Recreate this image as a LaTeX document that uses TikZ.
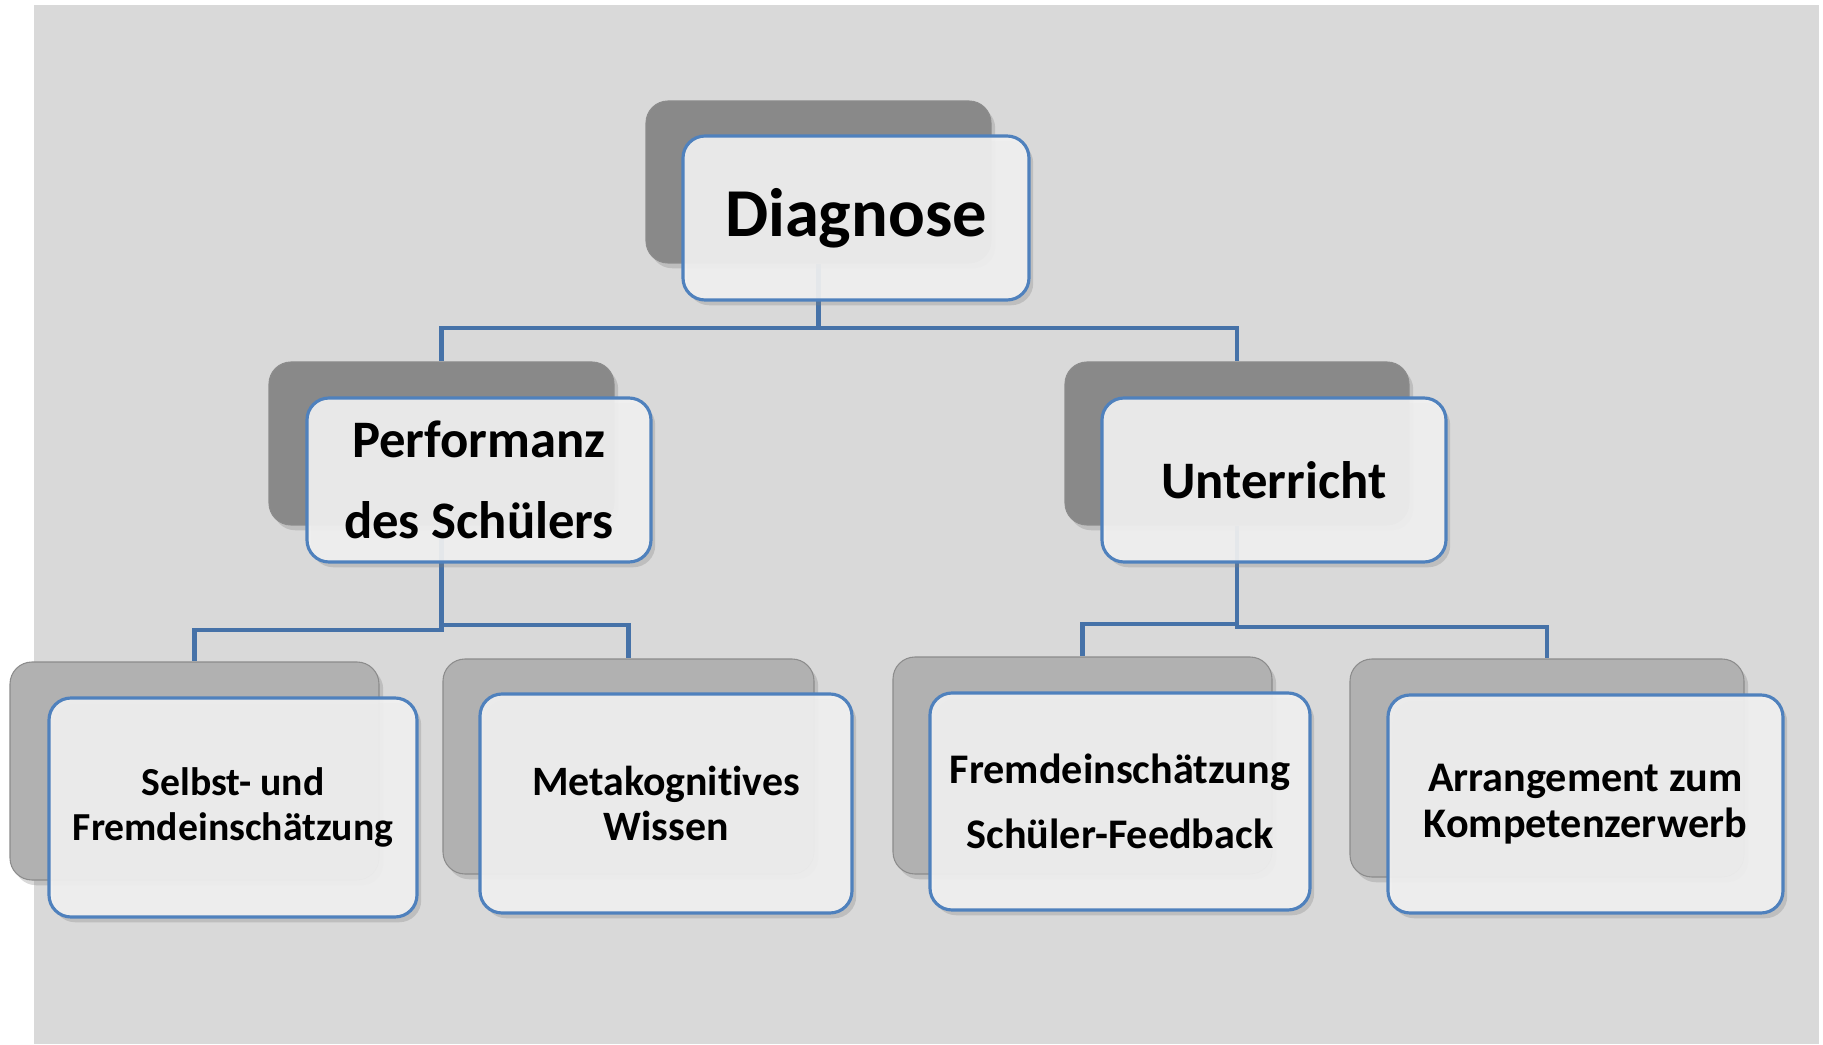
\documentclass[tikz,border=0pt]{standalone}
\usepackage{fontspec}
\setmainfont{Carlito}[Ligatures=NoCommon]
\usetikzlibrary{shadows,backgrounds}

\definecolor{bgGray}{HTML}{D9D9D9}
\definecolor{backDark}{HTML}{898989}
\definecolor{backLight}{HTML}{B1B1B1}
\definecolor{frameBlue}{HTML}{4F81BD}
\definecolor{linkBlue}{HTML}{4672A8}
\definecolor{frontFill}{HTML}{F1F1F1}

\begin{document}
\begin{tikzpicture}[
    back/.style={rectangle, rounded corners=0.22cm, fill=backDark, draw=black!45, line width=0.3pt, inner sep=0pt,
        drop shadow={shadow xshift=1.2pt, shadow yshift=-1.5pt, opacity=0.3}},
    leafback/.style={back, fill=backLight},
    front/.style={rectangle, rounded corners=0.22cm, draw=frameBlue, line width=0.9pt, fill=frontFill,
        fill opacity=0.92, text opacity=1, inner sep=0pt, align=center,
        drop shadow={shadow xshift=1.2pt, shadow yshift=-1.5pt, opacity=0.3}},
    big/.style={font=\bfseries\fontsize{19.5}{23}\selectfont},
    mid/.style={font=\bfseries\fontsize{15}{23}\selectfont},
    small/.style={font=\bfseries\fontsize{11.3}{12.8}\selectfont},
    link/.style={draw=linkBlue, line width=1.4pt},
]
    \useasboundingbox (0,0) rectangle (18.23,10.44);

    % Diagnose
    \node[back, minimum width=3.45cm, minimum height=1.62cm] (diagB) at (8.185,8.62) {};
    \node[front, big, minimum width=3.46cm, minimum height=1.64cm] (diag) at (8.56,8.26) {Diagnose};

    % second row
    \node[back, minimum width=3.45cm, minimum height=1.63cm] (perfB) at (4.415,6.005) {};
    \node[front, mid, minimum width=3.44cm, minimum height=1.64cm] (perf) at (4.79,5.64) {Performanz\\des Schülers};
    \node[back, minimum width=3.44cm, minimum height=1.63cm] (untB) at (12.37,6.005) {};
    \node[front, mid, minimum width=3.44cm, minimum height=1.64cm] (unt) at (12.74,5.64) {Unterricht};

    % leaves
    \node[leafback, minimum width=3.69cm, minimum height=2.18cm] (selbB) at (1.945,2.73) {};
    \node[front, small, minimum width=3.68cm, minimum height=2.19cm] (selb) at (2.33,2.365) {Selbst- und\\Fremdeinschätzung};
    \node[leafback, minimum width=3.71cm, minimum height=2.15cm] (metaB) at (6.285,2.775) {};
    \node[front, font=\bfseries\fontsize{11.9}{12.9}\selectfont, minimum width=3.72cm, minimum height=2.19cm] (meta) at (6.66,2.405) {Metakognitives\\Wissen};
    \node[leafback, minimum width=3.79cm, minimum height=2.17cm] (fremB) at (10.825,2.785) {};
    \node[front, font=\bfseries\fontsize{12}{18.5}\selectfont, minimum width=3.80cm, minimum height=2.17cm] (frem) at (11.2,2.425) {Fremdeinschätzung\\Schüler-Feedback};
    \node[leafback, minimum width=3.94cm, minimum height=2.18cm] (arrB) at (15.47,2.76) {};
    \node[front, font=\bfseries\fontsize{12}{13.1}\selectfont, minimum width=3.95cm, minimum height=2.18cm] (arr) at (15.855,2.40) {Arrangement zum\\Kompetenzerwerb};

    % junctions
    \coordinate (jd) at (8.185,7.16);
    \coordinate (jpa) at (4.415,4.14);
    \coordinate (jpb) at (4.415,4.19);
    \coordinate (jua) at (12.37,4.20);
    \coordinate (jub) at (12.37,4.17);

    \begin{scope}[on background layer]
        \fill[bgGray] (0.34,0) rectangle (18.19,10.39);
        \draw[link] (diagB.south) -- (jd) -| (perfB.north);
        \draw[link] (jd) -| (untB.north);
        \draw[link] (perfB.south) -- (jpa) -| (selbB.north);
        \draw[link] (perfB.south) -- (jpb) -| (metaB.north);
        \draw[link] (untB.south) -- (jua) -| (fremB.north);
        \draw[link] (untB.south) -- (jub) -| (arrB.north);
    \end{scope}
\end{tikzpicture}
\end{document}
